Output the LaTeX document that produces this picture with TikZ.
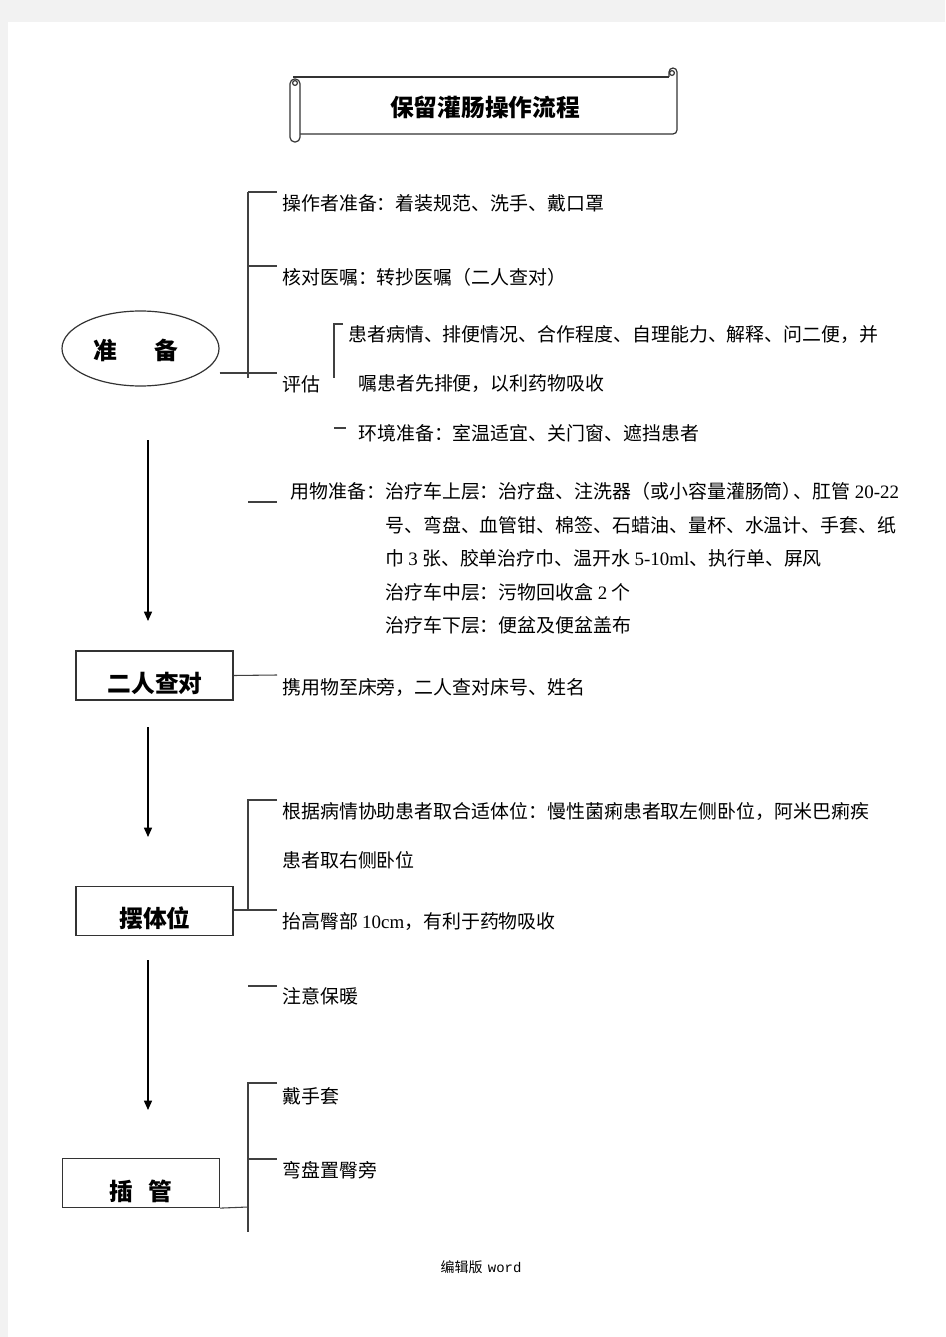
\documentclass[tikz,border=0pt]{standalone}
\usepackage{fontspec}
\setmainfont{Liberation Serif}
\newfontfamily\cjk{Noto Sans CJK SC}
\newfontfamily\latn{Liberation Serif}
\newfontfamily\mono{Liberation Mono}
\usetikzlibrary{arrows.meta,shapes.geometric}
\begin{document}
\begin{tikzpicture}[x=0.75pt,y=-0.75pt,
  txt/.style={anchor=west,inner sep=0pt,font=\cjk\fontsize{14.2pt}{17pt}\selectfont},
  lbl/.style={inner sep=0pt,font=\cjk\bfseries\fontsize{17.8pt}{20pt}\selectfont},
  boxnode/.style={draw=black!80,line width=0.9pt,rectangle,minimum width=117.75pt,minimum height=36.75pt,inner sep=0pt},
  brk/.style={draw=black!75,line width=0.8pt},
  flow/.style={draw=black,line width=1.1pt,-{Triangle[length=7pt,width=6pt]}},
  scroll/.style={draw=black!80,line width=0.9pt}
]
\fill[black!5] (0,0) rectangle (945,1337);
\fill[white] (8,22) rectangle (945,1337);
\useasboundingbox (0,0) rectangle (945,1337);

% title scroll
\draw[scroll] (293,77) -- (669,77);
\draw[scroll] (669,77) -- (669,72) arc[start angle=180,end angle=0,radius=3pt] -- (677,130) arc[start angle=0,end angle=-90,radius=3pt] -- (300,134);
\draw[scroll] (672,73) circle[radius=1.8pt];
\draw[scroll,fill=white,rounded corners=3.5pt] (290,79) rectangle (300,142);
\draw[scroll] (295,83) circle[radius=1.8pt];
\node[lbl] (title) at (485,107) {保留灌肠操作流程};

% 准备
\node[draw=black!80,line width=0.9pt,ellipse,minimum width=117.75pt,minimum height=56.25pt,inner sep=0pt] (prep) at (140.5,348.5) {};
\node[lbl] (preptxt) at (136,350) {准\hspace{27.7pt}备};

\coordinate (b1top) at (248,192);
\coordinate (b1bot) at (248,378);
\draw[brk] (b1top) -- (b1bot);
\coordinate (t1) at (277,192);
\coordinate (t2a) at (248,266);
\coordinate (t2) at (277,266);
\coordinate (t3a) at (220,373);
\coordinate (t3) at (277,373);
\draw[brk] (b1top) -- (t1);
\draw[brk,line width=1.3pt] (t2a) -- (t2);
\draw[brk] (prep.east |- t3a) -- (t3);

\node[txt] (p1) at (282,203) {操作者准备：着装规范、洗手、戴口罩};
\node[txt] (p2) at (282,277) {核对医嘱：转抄医嘱（二人查对）};
\node[txt] (p3) at (282,384) {评估};
\node[txt] (p3a) at (348,335) {患者病情、排便情况、合作程度、自理能力、解释、问二便，并};
\node[txt] (p3b) at (358,384) {嘱患者先排便，以利药物吸收};
\node[txt] (p3c) at (358,433) {环境准备：室温适宜、关门窗、遮挡患者};
\coordinate (ib1) at (334,324);
\coordinate (ib2) at (334,378);
\coordinate (ib3) at (343,324);
\draw[brk] (ib3) -- (ib1) -- (ib2);
\coordinate (d1) at (334,428);
\coordinate (d2) at (346,428);
\draw[brk] (d1) -- (d2);

\coordinate (u1) at (248,502);
\coordinate (u2) at (277,502);
\draw[brk] (u1) -- (u2);
\node[txt] (m0) at (290,491) {用物准备：};
\node[txt] (m1) at (385,491) {治疗车上层：治疗盘、注洗器（或小容量灌肠筒）\kern-6pt、肛管 {\latn 20-22}};
\node[txt] (m2) at (385,525) {号、弯盘、血管钳、棉签、石蜡油、量杯、水温计、手套、纸};
\node[txt] (m3) at (385,558) {巾 {\latn 3} 张、胶单治疗巾、温开水 {\latn 5-10ml}、执行单、屏风};
\node[txt] (m4) at (385,592) {治疗车中层：污物回收盒 {\latn 2} 个};
\node[txt] (m5) at (385,625) {治疗车下层：便盆及便盆盖布};

\coordinate (a1s) at (148,440);
\coordinate (a1e) at (148,621);
\draw[flow] (a1s) -- (a1e);

% 二人查对
\node[boxnode] (check) at (154.5,675.5) {};
\node[lbl] (checktxt) at (155,683) {二人查对};
\coordinate (c1) at (277,675);
\draw[brk] (check.east) -- (c1);
\node[txt] (c1t) at (282,687) {携用物至床旁，二人查对床号、姓名};

\coordinate (a2s) at (148,727);
\coordinate (a2e) at (148,837);
\draw[flow] (a2s) -- (a2e);

% 摆体位
\node[boxnode] (pos) at (154.5,911) {};
\node[lbl] (postxt) at (155,918) {摆体位};
\coordinate (q1) at (248,800);
\coordinate (q1e) at (277,800);
\coordinate (q2) at (248,910);
\coordinate (q2e) at (277,910);
\draw[brk] (q1e) -- (q1) -- (q2);
\draw[brk] (pos.east |- q2) -- (q2e);
\node[txt] (s1) at (282,811) {根据病情协助患者取合适体位：慢性菌痢患者取左侧卧位，阿米巴痢疾};
\node[txt] (s2) at (282,860) {患者取右侧卧位};
\node[txt] (s3) at (282,922) {抬高臀部 {\latn 10cm}，有利于药物吸收};
\coordinate (w1) at (248,986);
\coordinate (w2) at (277,986);
\draw[brk] (w1) -- (w2);
\node[txt] (s4) at (282,996) {注意保暖};

\coordinate (a3s) at (148,960);
\coordinate (a3e) at (148,1110);
\draw[flow] (a3s) -- (a3e);

% 插管
\node[boxnode] (ins) at (141,1183) {};
\node[lbl] (instxt) at (141,1191) {插\hspace{12pt}管};
\coordinate (r1) at (248,1083);
\coordinate (r1e) at (277,1083);
\coordinate (r2) at (248,1159);
\coordinate (r2e) at (277,1159);
\coordinate (r3) at (248,1207);
\coordinate (r4) at (248,1232);
\draw[brk] (r1e) -- (r1) -- (r4);
\draw[brk] (r2) -- (r2e);
\draw[brk] (ins.south east) -- (r3);
\node[txt] (i1) at (282,1096) {戴手套};
\node[txt] (i2) at (282,1170) {弯盘置臀旁};

\node[inner sep=0pt,font=\cjk\fontsize{10.5pt}{12pt}\selectfont] (foot) at (481,1267) {编辑版\hspace{4pt}{\mono word}};
\end{tikzpicture}
\end{document}
